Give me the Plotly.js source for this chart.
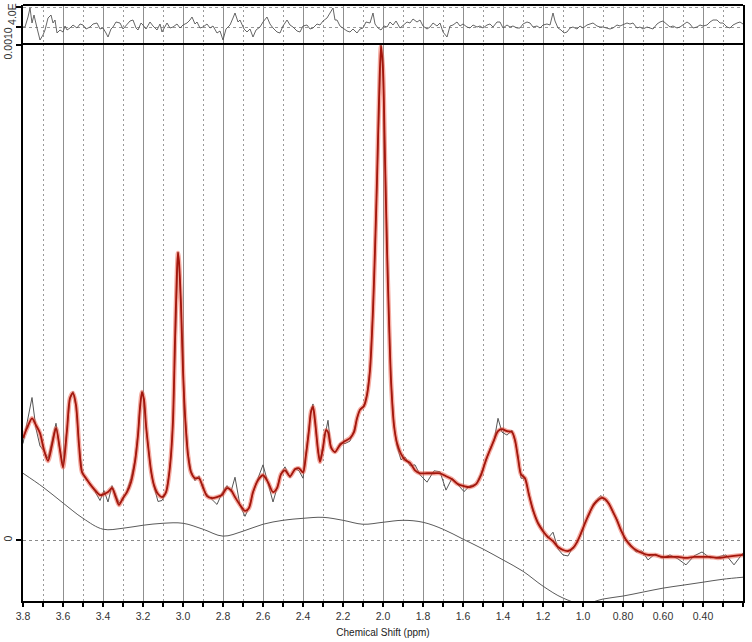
<!DOCTYPE html>
<html>
<head>
<meta charset="utf-8">
<script src="https://cdn.plot.ly/plotly-3.0.1.min.js"></script>
<style>html,body{margin:0;padding:0;background:#fff;}#chart{width:752px;height:642px;}</style>
</head>
<body>
<div id="chart"></div>
<script>
// Chemical shift (ppm) for the fitted spectrum and the measured data
const fitPpm = [3.800,3.780,3.755,3.735,3.715,3.695,3.675,3.655,3.635,3.615,
3.600,3.580,3.565,3.550,3.535,3.520,3.505,3.485,3.465,3.440,
3.415,3.395,3.375,3.355,3.335,3.320,3.300,3.280,3.260,3.240,
3.225,3.215,3.205,3.195,3.185,3.175,3.160,3.145,3.125,3.105,
3.085,3.070,3.060,3.050,3.040,3.030,3.025,3.020,3.010,3.000,
2.990,2.975,2.960,2.940,2.920,2.900,2.880,2.855,2.830,2.805,
2.780,2.760,2.740,2.715,2.690,2.670,2.650,2.625,2.600,2.575,
2.550,2.530,2.510,2.490,2.465,2.440,2.420,2.400,2.385,2.370,
2.360,2.350,2.340,2.325,2.315,2.300,2.285,2.275,2.260,2.240,
2.215,2.190,2.165,2.145,2.130,2.115,2.095,2.080,2.065,2.050,
2.040,2.030,2.020,2.010,2.000,1.990,1.980,1.970,1.960,1.945,
1.930,1.910,1.890,1.865,1.840,1.815,1.780,1.745,1.715,1.685,
1.655,1.625,1.595,1.565,1.535,1.510,1.485,1.465,1.445,1.425,
1.405,1.380,1.355,1.340,1.325,1.310,1.290,1.270,1.250,1.225,
1.200,1.175,1.150,1.125,1.100,1.075,1.050,1.030,1.010,0.990,
0.970,0.950,0.930,0.910,0.890,0.870,0.850,0.830,0.810,0.785,
0.760,0.735,0.705,0.675,0.640,0.605,0.565,0.525,0.485,0.445,
0.405,0.365,0.325,0.285,0.245,0.200];

// Fitted spectrum (micro-units, x1e-6)
const fitMicro = [206,226,246,232,216,182,160,192,226,182,
147,222,287,297,273,192,137,125,113,101,
91,93,97,105,85,71,85,97,117,158,
212,267,299,283,232,192,141,111,93,87,
97,131,172,242,404,545,580,562,475,343,
253,172,137,125,125,107,89,85,87,91,
105,101,87,71,59,65,97,121,131,117,
97,105,133,141,129,143,145,137,172,222,
259,269,242,182,158,186,222,218,188,178,
192,200,206,218,246,263,271,293,343,465,
586,727,889,998,949,768,586,444,323,232,
196,174,162,156,141,135,135,135,135,129,
123,113,109,107,113,131,162,182,202,220,
224,220,218,202,166,133,125,91,61,34,
18,6,-2,-14,-20,-22,-16,-4,14,34,
53,69,79,85,83,73,57,40,20,0,
-12,-20,-26,-30,-30,-34,-34,-34,-36,-34,
-34,-34,-36,-34,-32,-30];

// Measured (noisy) spectrum (micro-units)
const dataMicro = [195,240,288,225,190,180,165,200,236,180,
150,225,285,300,270,195,140,122,115,98,
80,100,77,110,90,75,82,100,125,162,
215,270,300,285,230,190,138,108,78,80,
95,133,170,240,400,545,582,560,475,345,
255,175,140,120,130,103,92,82,72,95,
110,98,127,70,48,66,95,125,152,115,
77,105,135,148,126,145,140,125,175,225,
262,275,240,178,160,190,222,242,185,176,
196,195,200,222,245,265,270,295,345,465,
586,727,889,1000,950,768,586,444,323,230,
190,162,168,150,152,132,117,140,138,101,
125,112,98,110,112,135,160,185,200,246,
218,212,222,200,170,125,125,93,58,36,
20,4,16,-18,-30,-32,-14,-6,12,36,
50,72,82,90,80,75,55,42,18,2,
-10,-24,-22,-40,-28,-36,-30,-38,-50,-32,
-24,-36,-34,-30,-50,-26];

// Baseline
const basePpm = [3.8,3.7,3.6,3.5,3.4,3.3,3.2,3.1,3.0,2.9,2.8,2.7,2.6,2.5,2.4,2.3,2.2,2.1,2.0,1.9,1.8,1.7,1.6,1.5,1.4,1.3,1.2,1.1,1.0,0.9,0.8,0.7,0.6,0.5,0.4,0.3,0.2];
const baseMicro = [135,107,75,44,22,24,30,34,34,22,8,18,32,40,44,46,40,32,36,40,36,22,2,-18,-40,-63,-93,-117,-129,-119,-113,-105,-97,-91,-85,-79,-75];

// Residual (top panel)
const resPpm = [3.800,3.790,3.775,3.765,3.755,3.745,3.730,3.715,3.700,3.690,3.675,3.660,3.650,3.640,3.630,3.615,3.600,3.590,3.580,3.565,3.550,3.530,3.515,3.500,3.485,3.465,3.450,3.430,3.415,3.400,3.385,3.375,3.360,3.350,3.335,3.315,3.300,3.280,3.265,3.250,3.235,3.225,3.210,3.200,3.185,3.165,3.150,3.130,3.115,3.105,3.090,3.080,3.065,3.050,3.030,3.015,3.000,2.980,2.965,2.955,2.940,2.930,2.915,2.900,2.880,2.865,2.850,2.830,2.815,2.800,2.785,2.765,2.750,2.740,2.725,2.715,2.695,2.680,2.665,2.650,2.635,2.615,2.600,2.580,2.565,2.550,2.530,2.515,2.500,2.480,2.465,2.450,2.430,2.415,2.400,2.380,2.365,2.350,2.330,2.315,2.300,2.280,2.265,2.250,2.240,2.230,2.215,2.200,2.180,2.165,2.150,2.130,2.115,2.100,2.085,2.065,2.050,2.040,2.025,2.010,1.995,1.980,1.965,1.950,1.935,1.915,1.900,1.880,1.865,1.850,1.830,1.815,1.800,1.780,1.765,1.750,1.730,1.715,1.700,1.680,1.665,1.650,1.630,1.615,1.600,1.580,1.565,1.550,1.530,1.515,1.500,1.480,1.465,1.450,1.430,1.415,1.400,1.380,1.365,1.350,1.330,1.315,1.300,1.280,1.265,1.250,1.230,1.215,1.200,1.180,1.165,1.150,1.140,1.125,1.110,1.095,1.080,1.065,1.050,1.030,1.015,1.000,0.980,0.965,0.950,0.930,0.915,0.900,0.880,0.865,0.850,0.830,0.815,0.800,0.780,0.765,0.750,0.730,0.715,0.700,0.680,0.665,0.650,0.630,0.615,0.600,0.580,0.565,0.550,0.530,0.515,0.500,0.480,0.465,0.450,0.430,0.415,0.400,0.380,0.365,0.350,0.330,0.315,0.300,0.280,0.265,0.250,0.230,0.215,0.200];
const resMicro = [0,0,20,38,8,24,-2,-26,-16,-6,18,24,8,14,-12,-6,-10,2,-6,-2,4,-2,6,4,-4,0,6,8,-4,-2,-12,-20,-4,0,10,8,-4,4,12,14,-2,-6,8,4,-4,10,2,-6,6,-10,2,8,-2,0,6,-2,4,8,14,20,6,10,-2,0,6,-2,2,-12,-8,-26,-4,4,18,28,10,14,-4,-10,-4,-20,-6,0,10,20,6,-2,-10,-12,2,14,4,0,-8,-10,2,4,-4,-2,6,4,12,18,28,38,14,14,2,-2,-8,-10,-4,-12,-4,-2,10,8,28,6,-2,-6,2,0,10,4,12,-2,4,10,8,16,10,14,2,-4,0,8,2,8,-10,-20,2,4,10,2,6,0,-2,4,0,2,-2,4,6,0,10,10,-2,4,0,2,-2,-2,6,10,8,0,2,-2,4,6,4,28,12,-2,-6,-12,-10,-2,0,-4,2,-2,4,6,8,2,0,0,-2,-4,-2,4,2,4,8,6,8,-2,0,-4,0,-2,-4,6,10,12,4,0,2,-2,0,4,10,6,-2,0,4,2,4,10,14,14,8,8,0,-2,4,8,10,6];

// Axis ticks
const xTickVals = [3.8,3.6,3.4,3.2,3.0,2.8,2.6,2.4,2.2,2.0,1.8,1.6,1.4,1.2,1.0,0.8,0.6,0.4];
const xTickText = ['3.8','3.6','3.4','3.2','3.0','2.8','2.6','2.4','2.2','2.0','1.8','1.6','1.4','1.2','1.0','0.80','0.60','0.40'];
const yTickVals = [0, 0.0010];
const yTickText = ['0', '0.0010'];
const resTickVals = [0, 4.0e-5];

const UNIT = 1e-6;
const sc = a => a.map(v => v * UNIT);

const FONT = 'Liberation Sans, Arial, sans-serif';

const traces = [
  {x: basePpm, y: sc(baseMicro), type: 'scatter', mode: 'lines', line: {color: '#5a5a5a', width: 1, shape: 'spline'}, xaxis: 'x', yaxis: 'y', hoverinfo: 'skip'},
  {x: fitPpm, y: sc(dataMicro), type: 'scatter', mode: 'lines', line: {color: '#555', width: 1}, xaxis: 'x', yaxis: 'y', hoverinfo: 'skip'},
  {x: fitPpm, y: sc(fitMicro), type: 'scatter', mode: 'lines', line: {color: 'rgba(235,90,70,0.5)', width: 4.5, shape: 'spline', smoothing: 0.8}, xaxis: 'x', yaxis: 'y', hoverinfo: 'skip'},
  {x: fitPpm, y: sc(fitMicro), type: 'scatter', mode: 'lines', line: {color: '#a4160c', width: 1.8, shape: 'spline', smoothing: 0.8}, xaxis: 'x', yaxis: 'y', hoverinfo: 'skip'},
  {x: resPpm, y: sc(resMicro), type: 'scatter', mode: 'lines', line: {color: '#555', width: 0.9}, xaxis: 'x', yaxis: 'y2', hoverinfo: 'skip'}
];

const split = 557 / 596;

const layout = {
  width: 752, height: 642,
  margin: {l: 23, r: 9, t: 5, b: 41, pad: 0},
  paper_bgcolor: '#fff', plot_bgcolor: '#fff',
  showlegend: false,
  font: {family: FONT, size: 10, color: '#333'},
  xaxis: {
    range: [3.8, 0.2], autorange: false,
    tickmode: 'array', tickvals: xTickVals, ticktext: xTickText,
    ticks: 'outside', ticklen: 4, tickwidth: 1.5, tickcolor: '#000',
    showgrid: true, gridcolor: '#8f8f8f', gridwidth: 1,
    minor: {dtick: 0.1, tick0: 0, ticks: 'outside', ticklen: 4, tickwidth: 1.5, tickcolor: '#000', showgrid: true, gridcolor: '#999', griddash: '2px,3px', gridwidth: 1},
    showline: true, linecolor: '#000', linewidth: 2, mirror: false,
    zeroline: false,
    tickfont: {family: FONT, size: 10.5, color: '#333'},
    title: {text: 'Chemical Shift (ppm)', font: {family: FONT, size: 10, color: '#222'}, standoff: 8},
    anchor: 'y'
  },
  yaxis: {
    domain: [0, split],
    range: [-123e-6, 1002e-6], autorange: false,
    tickmode: 'array', tickvals: yTickVals, ticktext: yTickText,
    tickangle: -90,
    ticks: 'outside', ticklen: 5, tickwidth: 1.5, tickcolor: '#000',
    showgrid: true, gridcolor: '#8a8a8a', griddash: '3px,3px', gridwidth: 1,
    showline: true, linecolor: '#000', linewidth: 2, mirror: true,
    zeroline: false,
    tickfont: {family: FONT, size: 10.5, color: '#333'},
    anchor: 'x'
  },
  yaxis2: {
    domain: [split, 1],
    range: [-34e-6, 44e-6], autorange: false,
    tickmode: 'array', tickvals: resTickVals, ticktext: ['', ''],
    ticks: 'outside', ticklen: 5, tickwidth: 1.5, tickcolor: '#000',
    showgrid: true, gridcolor: '#9a9a9a', griddash: '3px,3px', gridwidth: 1,
    showline: true, linecolor: '#000', linewidth: 2, mirror: true,
    zeroline: false,
    anchor: 'x'
  },
  shapes: [
    {type: 'line', xref: 'paper', yref: 'paper', x0: 0, x1: 1, y0: 1, y1: 1, line: {color: '#000', width: 2}},
    {type: 'line', xref: 'paper', yref: 'paper', x0: 0, x1: 1, y0: split, y1: split, line: {color: '#000', width: 2}}
  ],
  annotations: [
    {xref: 'paper', yref: 'paper', x: -0.0153, y: 0.985, text: '4.0E', showarrow: false, textangle: -90, xanchor: 'center', yanchor: 'middle', font: {family: FONT, size: 10.5, color: '#333'}}
  ]
};

Plotly.newPlot('chart', traces, layout, {staticPlot: true, displayModeBar: false});
</script>
</body>
</html>
